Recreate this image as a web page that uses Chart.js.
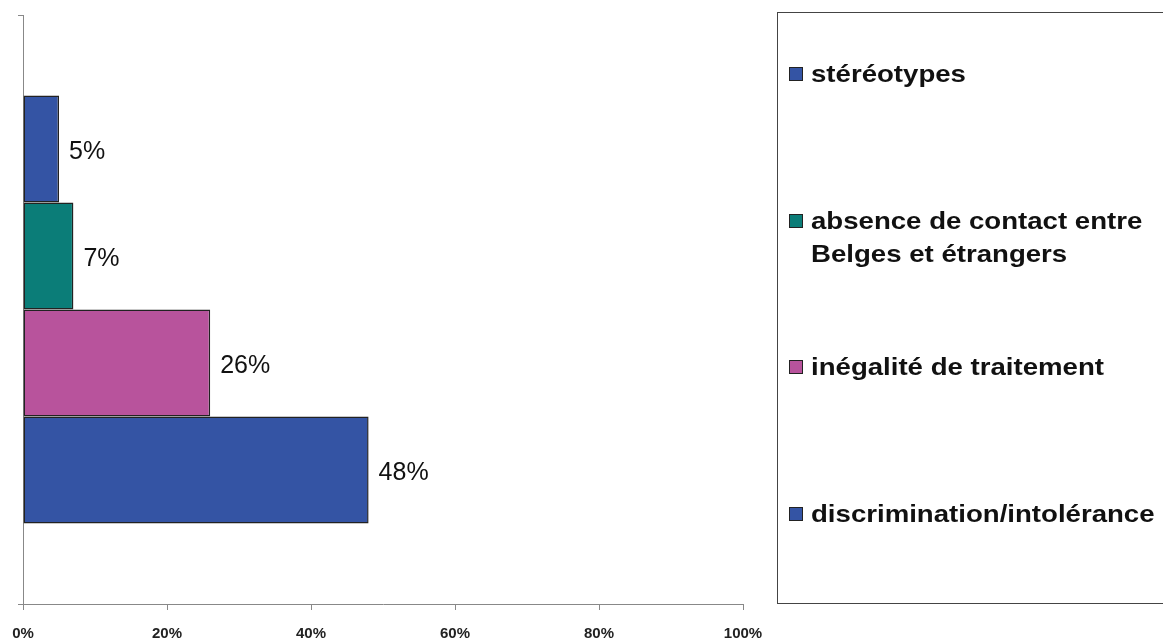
<!DOCTYPE html>
<html>
<head>
<meta charset="utf-8">
<script src="https://cdn.jsdelivr.net/npm/chart.js@4/dist/chart.umd.min.js"></script>
<style>
  html, body { margin: 0; padding: 0; background: #fff; }
  #wrap { position: relative; width: 1163px; height: 641px; overflow: hidden; }
  #legend {
    position: absolute; left: 777px; top: 12px; width: 440px; height: 592px;
    border: 1px solid #444; box-sizing: border-box;
    font: bold 24px "Liberation Sans", Arial, sans-serif; color: #111;
  }
  #legend .item { position: absolute; left: 11px; line-height: 33px; white-space: nowrap; }
  #legend .box {
    position: absolute; left: 0; top: 10px; width: 12px; height: 12px;
    border: 1px solid #222;
  }
  #legend .txt {
    position: absolute; left: 22px; top: 0;
    transform: scaleX(1.15); transform-origin: 0 0;
  }
</style>
</head>
<body>
<div id="wrap">
  <canvas id="chart" width="1163" height="641"></canvas>
  <div id="legend"></div>
</div>
<script>
// categories, top to bottom
const categories = [
  "stéréotypes",
  "absence de contact entre\nBelges et étrangers",
  "inégalité de traitement",
  "discrimination/intolérance"
];
const values = [5, 7, 26, 48];
const colors = ["#3454A4", "#0B7D78", "#B8539C", "#3454A4"];
const xTicks = [0, 20, 40, 60, 80, 100];

// legend entry offsets inside the box
const legendTops = [44, 191, 337, 484];

const FONT = '"Liberation Sans", Arial, sans-serif';

// value labels at the end of each bar
const barLabels = {
  id: "barLabels",
  afterDatasetsDraw(chart) {
    const ctx = chart.ctx;
    ctx.save();
    ctx.font = "25px " + FONT;
    ctx.fillStyle = "#111";
    ctx.textBaseline = "middle";
    chart.data.datasets.forEach((ds, i) => {
      const bar = chart.getDatasetMeta(i).data[0];
      ctx.fillText(ds.data[0] + "%", bar.x + 10, bar.y + 3);
    });
    ctx.restore();
  }
};

const chart = new Chart(document.getElementById("chart"), {
  type: "bar",
  data: {
    labels: [""],
    datasets: categories.map((c, i) => ({
      label: c,
      data: [values[i]],
      backgroundColor: colors[i],
      borderColor: "#222",
      borderWidth: 1.5,
      borderSkipped: false
    }))
  },
  options: {
    indexAxis: "y",
    responsive: false,
    animation: false,
    layout: { padding: { top: 15, right: 420, left: 0, bottom: 0 } },
    datasets: { bar: { categoryPercentage: 0.727, barPercentage: 1 } },
    plugins: { legend: { display: false }, tooltip: { enabled: false } },
    scales: {
      x: {
        min: 0, max: 100,
        afterBuildTicks: s => { s.ticks = xTicks.map(v => ({ value: v })); },
        afterFit: s => { s.height = 37; s.paddingLeft = 0; s.paddingRight = 0; },
        border: { color: "#888", width: 1 },
        grid: { drawOnChartArea: false, color: "#888", tickLength: 6 },
        ticks: {
          callback: v => v + "%",
          font: { family: FONT, size: 15, weight: "bold" },
          color: "#222",
          padding: 15,
          maxRotation: 0
        }
      },
      y: {
        afterFit: s => { s.width = 23; },
        border: { color: "#888", width: 1 },
        grid: { drawOnChartArea: false, color: "#888", tickLength: 5, offset: true },
        ticks: { display: false }
      }
    }
  },
  plugins: [barLabels]
});

// html legend built from the chart datasets
const legend = document.getElementById("legend");
chart.data.datasets.forEach((ds, i) => {
  const item = document.createElement("div");
  item.className = "item";
  item.style.top = legendTops[i] + "px";
  const box = document.createElement("span");
  box.className = "box";
  box.style.background = ds.backgroundColor;
  const txt = document.createElement("span");
  txt.className = "txt";
  txt.innerHTML = ds.label.split("\n").join("<br>");
  item.appendChild(box);
  item.appendChild(txt);
  legend.appendChild(item);
});
</script>
</body>
</html>
